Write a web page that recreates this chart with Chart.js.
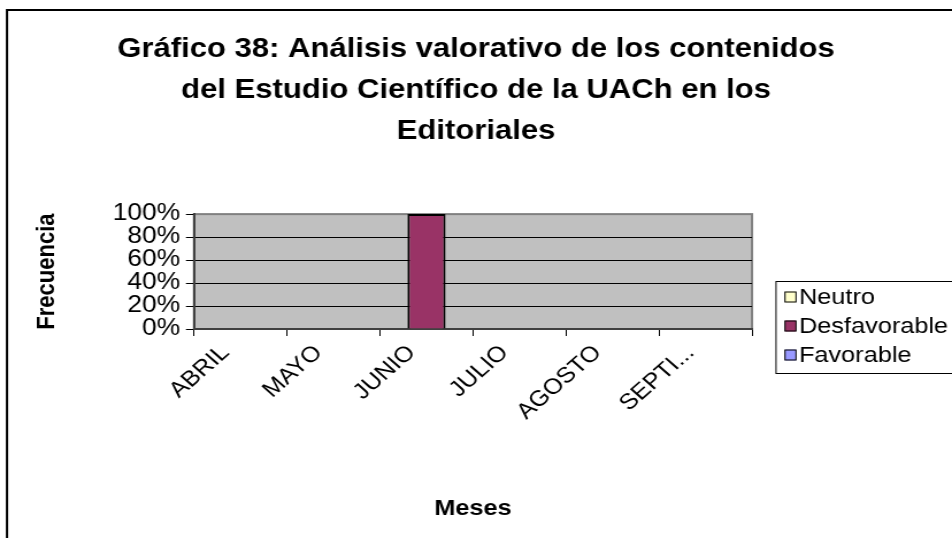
<!DOCTYPE html>
<html>
<head>
<meta charset="utf-8">
<script src="https://cdn.jsdelivr.net/npm/chart.js@4.4.1/dist/chart.umd.min.js"></script>
<style>
  html, body { margin: 0; padding: 0; background: #fff; overflow: hidden; }
  #c { display: block; width: 952px !important; height: 538px !important; }
</style>
</head>
<body>
<canvas id="c" width="828" height="538" style="width:952px;height:538px"></canvas>
<script>
// Months on the category axis
const months = ['ABRIL', 'MAYO', 'JUNIO', 'JULIO', 'AGOSTO', 'SEPTIEMBRE'];

// Share of editorials per month (percent, 100% stacked)
const neutro       = [0, 0, 0,   0, 0, 0];
const desfavorable = [0, 0, 100, 0, 0, 0];
const favorable    = [0, 0, 0,   0, 0, 0];

const seriesNames  = ['Neutro', 'Desfavorable', 'Favorable'];
const seriesColors = ['#FFFFCC', '#993366', '#9999FF'];

// Value axis ticks
const yTickValues = [0, 20, 40, 60, 80, 100];

const titleLines = [
  'Gráfico 38: Análisis valorativo de los contenidos',
  'del Estudio Científico de la UACh en los',
  'Editoriales'
];

const FONT = "'Liberation Sans', Arial, Helvetica, sans-serif";
Chart.defaults.font.family = FONT;
Chart.defaults.color = '#000';

// The drawing buffer is narrower than the page and is stretched horizontally by CSS.
const CW = 828, CH = 538;
const SX = 952 / CW;
const px = v => v / SX;

// Grey plot area, its border and the outer frame of the chart
const plotBg = {
  id: 'plotBg',
  beforeDraw(chart) {
    const { ctx, chartArea: a } = chart;
    ctx.save();
    ctx.fillStyle = '#fff';
    ctx.fillRect(0, 0, chart.width, chart.height);
    ctx.fillStyle = '#C0C0C0';
    ctx.fillRect(a.left, a.top, a.right - a.left, a.bottom - a.top);
    ctx.strokeStyle = '#808080';
    ctx.lineWidth = 2;
    ctx.strokeRect(a.left, a.top, a.right - a.left, a.bottom - a.top);
    ctx.strokeStyle = '#000';
    ctx.lineWidth = 2;
    ctx.strokeRect(px(7), 10, chart.width + 20, chart.height + 20);
    ctx.restore();
  }
};

// Boxed legend on the right, built from the datasets
const boxLegend = {
  id: 'boxLegend',
  afterDraw(chart) {
    const { ctx } = chart;
    const left = px(776), top = 281, bottom = 373;
    const firstY = 297, rowH = 29;
    ctx.save();
    ctx.strokeStyle = '#000';
    ctx.lineWidth = 1;
    ctx.strokeRect(left, top + 0.5, chart.width, bottom - top);
    ctx.font = `22px ${FONT}`;
    ctx.textBaseline = 'middle';
    ctx.textAlign = 'left';
    chart.data.datasets.forEach((ds, i) => {
      const cy = firstY + i * rowH;
      const bx = px(785), bw = px(11), bh = 11;
      ctx.fillStyle = ds.backgroundColor;
      ctx.fillRect(bx, cy - bh / 2, bw, bh);
      ctx.strokeRect(bx, cy - bh / 2 + 0.5, bw, bh - 1);
      ctx.fillStyle = '#000';
      ctx.fillText(ds.label, px(799), cy + 1);
    });
    ctx.restore();
  }
};

const seriesData = [neutro, desfavorable, favorable];

new Chart(document.getElementById('c'), {
  type: 'bar',
  data: {
    labels: months,
    datasets: seriesNames.map((name, i) => ({
      label: name,
      data: seriesData[i],
      backgroundColor: seriesColors[i],
      borderColor: '#000',
      borderWidth: 2,
      categoryPercentage: 0.41,
      barPercentage: 1
    }))
  },
  options: {
    responsive: false,
    animation: false,
    devicePixelRatio: 1,
    layout: { padding: 0 },
    plugins: {
      legend: { display: false },
      tooltip: { enabled: false },
      title: {
        display: true,
        text: titleLines,
        color: '#000',
        font: { family: FONT, size: 27, weight: 'bold', lineHeight: 1.52 },
        padding: { top: 29, bottom: 62 }
      }
    },
    scales: {
      x: {
        stacked: true,
        offset: true,
        grid: { offset: true, drawOnChartArea: false, drawTicks: true, tickLength: 7, tickColor: '#000', tickWidth: 1 },
        border: { display: true, color: '#404040', width: 2 },
        ticks: {
          autoSkip: false,
          minRotation: 45,
          maxRotation: 45,
          padding: 4,
          labelOffset: -13,
          color: '#000',
          font: { family: FONT, size: 22 },
          callback(v) {
            const s = this.getLabelForValue(v);
            return s.length > 6 ? s.slice(0, 5) + '...' : s;
          }
        },
        title: {
          display: true,
          text: 'Meses',
          color: '#000',
          font: { family: FONT, size: 22, weight: 'bold' },
          padding: { top: 0, bottom: 15.8 }
        },
        afterFit(s) { s.height = 209; }
      },
      y: {
        stacked: true,
        min: 0,
        max: 100,
        afterBuildTicks(s) { s.ticks = yTickValues.map(v => ({ value: v })); },
        grid: {
          color: c => (c.tick && c.tick.value === 100) ? '#808080' : '#000',
          lineWidth: 1,
          tickLength: 7,
          tickColor: '#000'
        },
        border: { display: true, color: '#404040', width: 2 },
        ticks: {
          autoSkip: false,
          padding: 5,
          color: '#000',
          font: { family: FONT, size: 23, lineHeight: 1 },
          callback: v => v + '%'
        },
        title: {
          display: true,
          text: 'Frecuencia',
          color: '#000',
          font: { family: FONT, size: 22, weight: 'bold' },
          padding: { top: 27.7, bottom: 0 }
        },
        afterFit(s) { s.width = px(194); }
      },
      legendSpace: {
        type: 'linear',
        position: 'right',
        display: true,
        grid: { display: false },
        border: { display: false },
        ticks: { display: false },
        afterFit(s) { s.width = CW - px(752); }
      }
    }
  },
  plugins: [plotBg, boxLegend]
});
</script>
</body>
</html>
